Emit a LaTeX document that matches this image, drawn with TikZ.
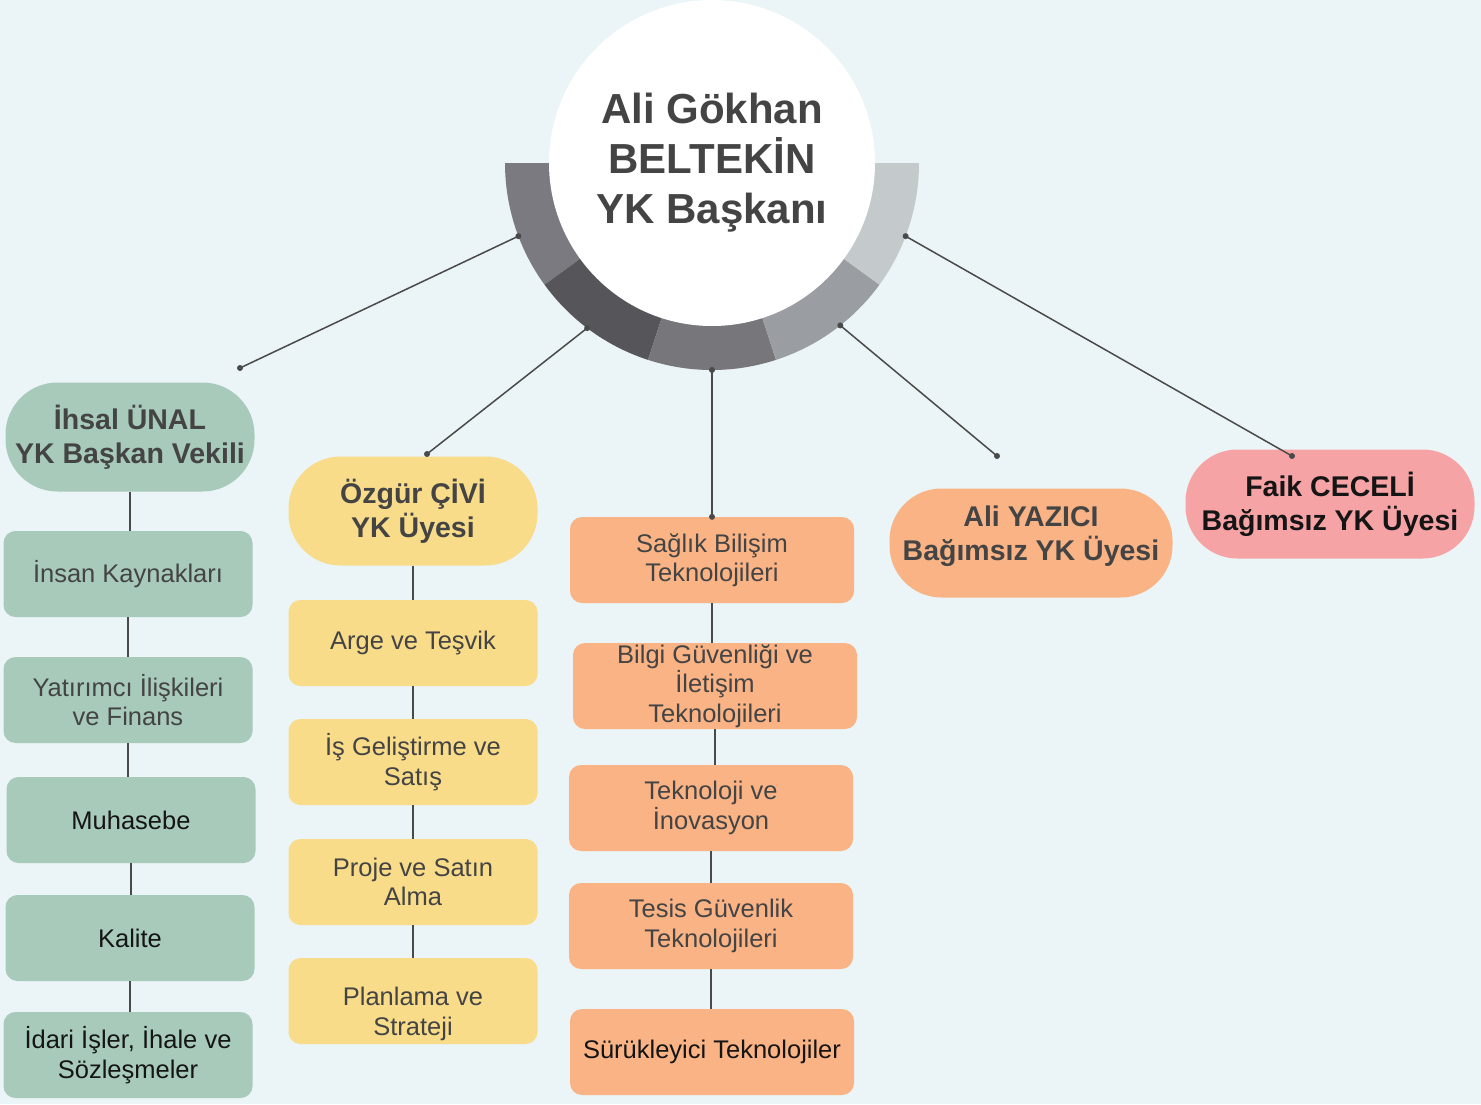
\documentclass[tikz,border=0pt]{standalone}
\usepackage{fontspec}
\setmainfont{Liberation Sans}
\usetikzlibrary{calc}

\definecolor{zemin}{HTML}{EBF4F6}
\definecolor{yesil}{HTML}{A7CABA}
\definecolor{sari}{HTML}{F8DC8A}
\definecolor{turuncu}{HTML}{F9B385}
\definecolor{pembe}{HTML}{F6A3A6}
\definecolor{metin}{HTML}{444444}
\definecolor{koyu}{HTML}{151515}
\definecolor{hatrenk}{HTML}{4A4A4A}
\definecolor{halkaA}{HTML}{7A7A80}
\definecolor{halkaB}{HTML}{56555A}
\definecolor{halkaC}{HTML}{76767B}
\definecolor{halkaD}{HTML}{9A9EA3}
\definecolor{halkaE}{HTML}{C4C9CC}

\tikzset{
  kutu/.style={rounded corners=12pt, minimum width=249pt, minimum height=86pt,
    inner sep=0pt, align=center, text=metin, font=\fontsize{25.5}{29.5}\selectfont},
  baslik/.style={rounded corners=52pt, minimum width=249pt, minimum height=109pt,
    inner sep=0pt, align=center, text=metin, font=\bfseries\fontsize{28.5}{34}\selectfont},
  hat/.style={draw=hatrenk, line width=1.5pt},
  nokta/.style={circle, fill=hatrenk, inner sep=0pt, minimum size=6pt},
}

\newcommand{\dilim}[3]{% start angle, end angle, colour
  \fill[#3] ($(mid)+(#1:207)$) arc[start angle=#1, end angle=#2, radius=207]
    -- ($(mid)+(#2:160)$) arc[start angle=#2, end angle=#1, radius=160] -- cycle;}
% metni kutu icinde yukari/asagi kaydirir
\newcommand{\kaydir}[2]{\raisebox{#1}[0pt][0pt]{\begin{tabular}{@{}c@{}}#2\end{tabular}}}

\begin{document}
\begin{tikzpicture}[x=1pt, y=-1pt]
  \useasboundingbox (0,0) rectangle (1481,1104);
  \fill[zemin] (0,0) rectangle (1481,1104);

  % baskan halkasi
  \coordinate (mid) at (712,163);
  \dilim{144}{180}{halkaA}
  \dilim{108}{144}{halkaB}
  \dilim{72}{108}{halkaC}
  \dilim{36}{72}{halkaD}
  \dilim{0}{36}{halkaE}
  \node[circle, fill=white, minimum size=326pt, inner sep=0pt, align=center,
    text=metin, font=\bfseries\fontsize{42}{50}\selectfont] (baskan) at (mid)
    {Ali Gökhan\\BELTEKİN\\YK Başkanı};

  % ust kutular
  \node[baslik, fill=yesil] (vekil) at (130,437) {İhsal ÜNAL\\YK Başkan Vekili};
  \node[baslik, fill=sari] (ozgur) at (413,511) {Özgür ÇİVİ\\YK Üyesi};
  \node[baslik, fill=turuncu, minimum width=283pt] (yazici) at (1031,543) {\kaydir{0pt}{Ali YAZICI\\Bağımsız YK Üyesi}};
  \node[baslik, fill=pembe, minimum width=289pt, text=koyu] (ceceli) at (1330,504) {Faik CECELİ\\Bağımsız YK Üyesi};

  % yesil sutun
  \node[kutu, fill=yesil] (ik) at (128,574) {İnsan Kaynakları};
  \node[kutu, fill=yesil] (yatirim) at (128,700) {Yatırımcı İlişkileri\\ve Finans};
  \node[kutu, fill=yesil, text=koyu] (muhasebe) at (131,820) {Muhasebe};
  \node[kutu, fill=yesil, text=koyu] (kalite) at (130,938) {Kalite};
  \node[kutu, fill=yesil, text=koyu] (idari) at (128,1055) {İdari İşler, İhale ve\\Sözleşmeler};

  % sari sutun
  \node[kutu, fill=sari] (arge) at (413,643) {Arge ve Teşvik};
  \node[kutu, fill=sari] (isgel) at (413,762) {İş Geliştirme ve\\Satış};
  \node[kutu, fill=sari] (proje) at (413,882) {Proje ve Satın\\Alma};
  \node[kutu, fill=sari] (planlama) at (413,1001) {\kaydir{-20pt}{Planlama ve\\Strateji}};

  % turuncu sutun
  \node[kutu, fill=turuncu, minimum width=284pt] (saglik) at (712,560) {Sağlık Bilişim\\Teknolojileri};
  \node[kutu, fill=turuncu, minimum width=284pt] (bilgi) at (715,686) {Bilgi Güvenliği ve\\İletişim\\Teknolojileri};
  \node[kutu, fill=turuncu, minimum width=284pt] (teknoloji) at (711,808) {Teknoloji ve\\İnovasyon};
  \node[kutu, fill=turuncu, minimum width=284pt] (tesis) at (711,926) {Tesis Güvenlik\\Teknolojileri};
  \node[kutu, fill=turuncu, minimum width=284pt, text=koyu] (surukleyici) at (712,1052) {Sürükleyici Teknolojiler};

  % halkadan cikan hatlar
  \coordinate (r1) at ($(mid)+(159.3:207)$);
  \coordinate (r2) at ($(mid)+(127.1:207)$);
  \coordinate (r3) at ($(mid)+(90:207)$);
  \coordinate (r4) at ($(mid)+(51.7:207)$);
  \coordinate (r5) at ($(mid)+(20.7:207)$);
  \coordinate (u1) at (240,368);
  \coordinate (u2) at (427,454);
  \coordinate (u4) at (997,456);
  \coordinate (u5) at (1292,456);
  \draw[hat] (r1) -- (u1);
  \draw[hat] (r2) -- (u2);
  \draw[hat] (r3) -- (saglik.north);
  \draw[hat] (r4) -- (u4);
  \draw[hat] (r5) -- (u5);
  \foreach \p in {r1,r2,r3,r4,r5,u1,u2,u4,u5}
    \node[nokta] at (\p) {};
  \node[nokta] at (saglik.north) {};

  % sutun hatlari
  \draw[hat] (vekil.south) -- (vekil.south |- ik.north);
  \draw[hat] (ik.south) -- (ik.south |- yatirim.north);
  \draw[hat] (yatirim.south) -- (yatirim.south |- muhasebe.north);
  \draw[hat] (muhasebe.south) -- (muhasebe.south |- kalite.north);
  \draw[hat] (kalite.south) -- (kalite.south |- idari.north);
  \draw[hat] (ozgur.south) -- (arge.north);
  \draw[hat] (arge.south) -- (isgel.north);
  \draw[hat] (isgel.south) -- (proje.north);
  \draw[hat] (proje.south) -- (planlama.north);
  \draw[hat] (saglik.south) -- (saglik.south |- bilgi.north);
  \draw[hat] (bilgi.south) -- (bilgi.south |- teknoloji.north);
  \draw[hat] (teknoloji.south) -- (teknoloji.south |- tesis.north);
  \draw[hat] (tesis.south) -- (tesis.south |- surukleyici.north);
\end{tikzpicture}
\end{document}
